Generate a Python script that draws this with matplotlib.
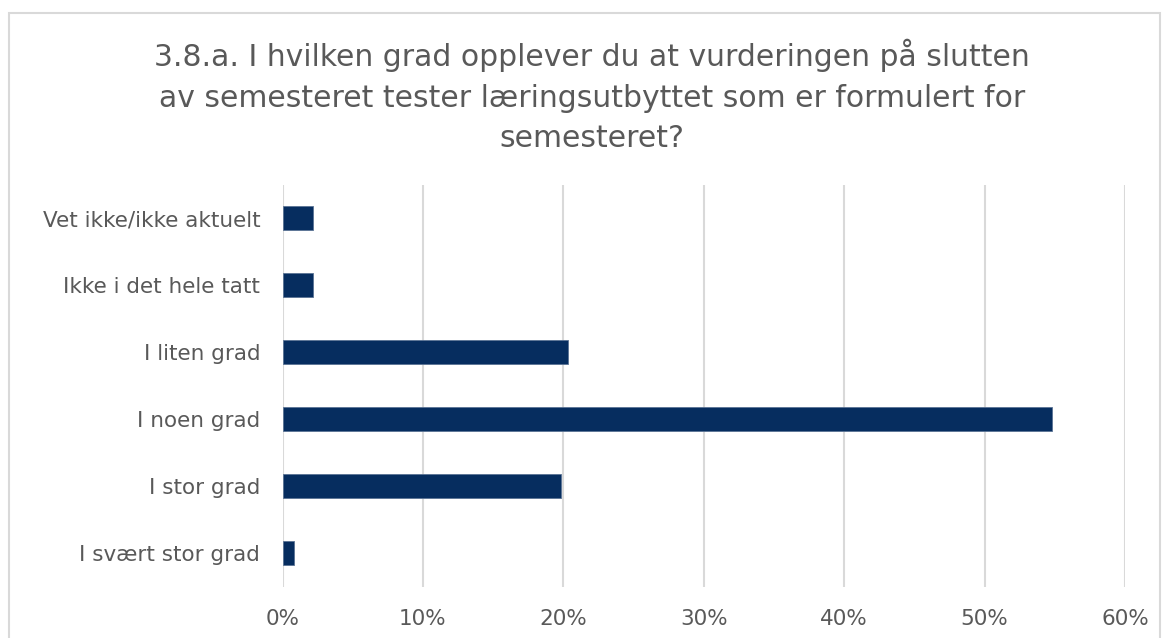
import matplotlib
matplotlib.use("Agg")
import matplotlib.pyplot as plt
from matplotlib.patches import Rectangle
from matplotlib.ticker import PercentFormatter

categories = ["I svært stor grad", "I stor grad", "I noen grad", "I liten grad",
              "Ikke i det hele tatt", "Vet ikke/ikke aktuelt"]
values = [0.85, 19.8, 54.8, 20.3, 2.15, 2.15]
xticks = [0, 10, 20, 30, 40, 50, 60]
title = ("3.8.a. I hvilken grad opplever du at vurderingen på slutten\n"
         "av semesteret tester læringsutbyttet som er formulert for\n"
         "semesteret?")

plt.rcParams['font.family'] = ['DejaVu Sans']
W, H = 1163, 638
fig = plt.figure(figsize=(W / 100, H / 100), dpi=100)
fig.patch.set_facecolor('white')

# outer chart border
fig.patches.append(Rectangle((9 / W, -0.05), (1160 - 9) / W, 1.05 - 13 / H,
                             transform=fig.transFigure, fill=False,
                             edgecolor='#d9d9d9', linewidth=1.5))

left, right, top, bottom = 282.5, 1125, 184.5, 586.5
ax = fig.add_axes([left / W, 1 - bottom / H, (right - left) / W, (bottom - top) / H])
ax.barh(range(len(categories)), values, height=0.36, color='#062d5f',
        edgecolor='#5a7394', linewidth=0.6, zorder=3)
ax.set_xlim(0, 60)
ax.set_ylim(-0.5, len(categories) - 0.5)
ax.set_xticks(xticks)
ax.xaxis.set_major_formatter(PercentFormatter(decimals=0))
ax.set_yticks(range(len(categories)))
ax.set_yticklabels(categories)
ax.grid(axis='x', color='#d9d9d9', linewidth=1.5, zorder=0)
for s in ax.spines.values():
    s.set_visible(False)
ax.tick_params(axis='both', length=0, labelsize=15.5, colors='#595959')
ax.tick_params(axis='y', pad=16)
ax.tick_params(axis='x', pad=16)

fig.text(592 / W, 1 - 39 / H, title, ha='center', va='top', fontsize=21.5,
         color='#595959', linespacing=1.5)

fig.savefig('out.png', dpi=100, facecolor='white')
